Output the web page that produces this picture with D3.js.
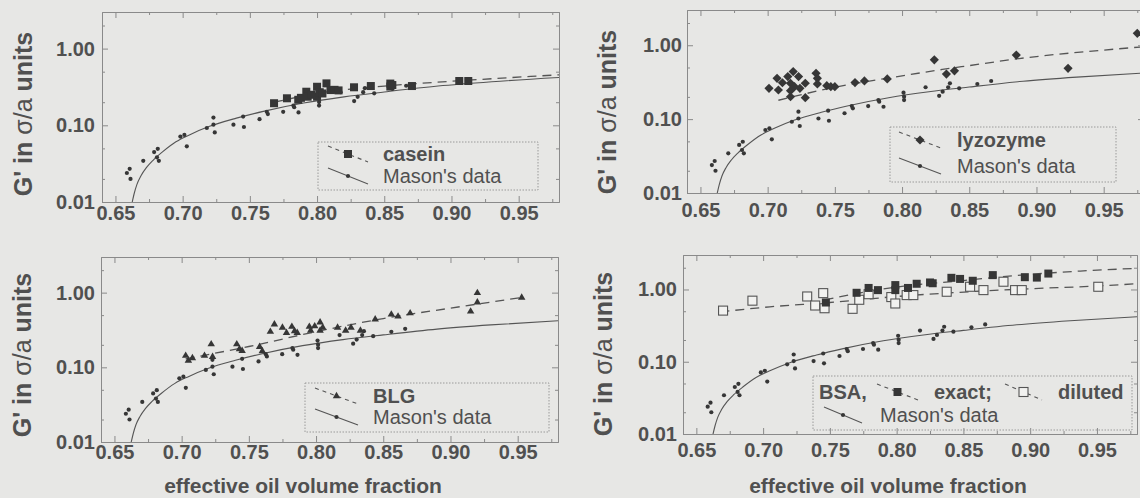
<!DOCTYPE html>
<html>
<head>
<meta charset="utf-8">
<script src="https://cdn.jsdelivr.net/npm/d3@7"></script>
<style>
  html, body { margin: 0; padding: 0; background: #e7e7e5; }
  svg { display: block; }
  text { font-family: "Liberation Sans", Arial, Helvetica, sans-serif; fill: #505050; }
</style>
</head>
<body>
<svg id="chart" width="1140" height="498"></svg>
<script>
// ---- axis settings -------------------------------------------------------
const xDomain = [0.64, 0.98];
const yDomain = [0.01, 3];
const xMajorTicks = [0.65, 0.70, 0.75, 0.80, 0.85, 0.90, 0.95];
const xMinorTicks = [0.675, 0.725, 0.775, 0.825, 0.875, 0.925, 0.975];
const yMajorTicks = [0.01, 0.1, 1];
const yMinorTicks = [0.02, 0.05, 0.2, 0.5, 2];

// ---- Mason's data (same reference set in all four panels) ---------------
const masonData = [
  [0.6585, 0.0239], [0.6606, 0.0271], [0.6612, 0.0200], [0.6707, 0.0344],
  [0.6788, 0.0447], [0.6815, 0.0494], [0.6809, 0.0382], [0.6823, 0.0344],
  [0.6983, 0.0712], [0.7013, 0.0750], [0.7031, 0.0532], [0.7180, 0.0922],
  [0.7229, 0.1260], [0.7229, 0.1020], [0.7239, 0.0807], [0.7378, 0.1020],
  [0.7450, 0.1300], [0.7456, 0.0950], [0.7572, 0.1200], [0.7626, 0.1500],
  [0.7634, 0.1400], [0.7748, 0.1500], [0.7824, 0.1810], [0.7830, 0.1720],
  [0.7862, 0.1470], [0.8011, 0.2280], [0.8015, 0.2010], [0.8015, 0.1810],
  [0.8175, 0.2700], [0.8276, 0.2070], [0.8302, 0.2350], [0.8343, 0.2700],
  [0.8356, 0.3050], [0.8425, 0.2610], [0.8560, 0.2990], [0.8663, 0.3280]
];
// Mason's fitted curve
const masonFit = [
  [0.6625, 0.010], [0.664, 0.013], [0.666, 0.017], [0.669, 0.022],
  [0.673, 0.028], [0.678, 0.035], [0.685, 0.045], [0.695, 0.061],
  [0.705, 0.075], [0.720, 0.097], [0.740, 0.124], [0.760, 0.152],
  [0.790, 0.195], [0.820, 0.235], [0.850, 0.272], [0.890, 0.325],
  [0.930, 0.370], [0.980, 0.420]
];

// ---- casein --------------------------------------------------------------
const caseinData = [
  [0.768, 0.194], [0.7776, 0.225], [0.786, 0.215], [0.788, 0.228],
  [0.792, 0.274], [0.793, 0.236], [0.796, 0.250], [0.800, 0.318],
  [0.800, 0.236], [0.802, 0.270], [0.804, 0.260], [0.807, 0.352],
  [0.810, 0.288], [0.813, 0.290], [0.816, 0.285], [0.8275, 0.313],
  [0.840, 0.325], [0.8545, 0.350], [0.8545, 0.320], [0.856, 0.335],
  [0.8706, 0.325], [0.9058, 0.378], [0.9125, 0.378]
];
const caseinFit = [[0.768, 0.200], [0.800, 0.260], [0.850, 0.325], [0.900, 0.375], [0.980, 0.455]];

// ---- lyzozyme ------------------------------------------------------------
const lyzozymeData = [
  [0.701, 0.261], [0.707, 0.357], [0.708, 0.248], [0.711, 0.311],
  [0.715, 0.377], [0.717, 0.306], [0.717, 0.243], [0.717, 0.201],
  [0.719, 0.440], [0.720, 0.275], [0.723, 0.377], [0.724, 0.261],
  [0.728, 0.195], [0.728, 0.306], [0.736, 0.418], [0.737, 0.357],
  [0.737, 0.300], [0.744, 0.284], [0.747, 0.275], [0.750, 0.275],
  [0.765, 0.312], [0.772, 0.329], [0.789, 0.350], [0.824, 0.635],
  [0.833, 0.407], [0.839, 0.450], [0.885, 0.736], [0.9235, 0.487],
  [0.975, 1.450]
];
const lyzozymeFit = [
  [0.708, 0.180], [0.750, 0.270], [0.800, 0.385], [0.830, 0.470],
  [0.850, 0.530], [0.887, 0.660], [0.950, 0.860], [0.980, 0.955]
];

// ---- BLG -----------------------------------------------------------------
const blgData = [
  [0.703, 0.143], [0.705, 0.123], [0.708, 0.133], [0.717, 0.143],
  [0.722, 0.204], [0.723, 0.138], [0.741, 0.204], [0.743, 0.175],
  [0.745, 0.166], [0.758, 0.188], [0.760, 0.165], [0.766, 0.300],
  [0.769, 0.376], [0.775, 0.340], [0.778, 0.290], [0.782, 0.350],
  [0.784, 0.306], [0.786, 0.290], [0.795, 0.350], [0.796, 0.310],
  [0.799, 0.355], [0.803, 0.400], [0.803, 0.310], [0.805, 0.340],
  [0.816, 0.340], [0.822, 0.310], [0.826, 0.340], [0.833, 0.310],
  [0.844, 0.440], [0.856, 0.510], [0.861, 0.480], [0.870, 0.530],
  [0.915, 0.560], [0.920, 0.740], [0.920, 0.990], [0.953, 0.860]
];
const blgFit = [[0.703, 0.130], [0.750, 0.190], [0.800, 0.300], [0.850, 0.450], [0.900, 0.620], [0.953, 0.860]];

// ---- BSA -----------------------------------------------------------------
const bsaExactData = [
  [0.747, 0.66], [0.770, 0.90], [0.779, 1.05], [0.786, 0.98],
  [0.799, 1.15], [0.799, 0.98], [0.8085, 1.05], [0.815, 1.20],
  [0.825, 1.25], [0.827, 1.22], [0.841, 1.45], [0.8475, 1.40],
  [0.857, 1.32], [0.872, 1.58], [0.896, 1.48], [0.905, 1.46],
  [0.9136, 1.66]
];
const bsaExactFit = [[0.746, 0.72], [0.800, 1.08], [0.850, 1.33], [0.8875, 1.55], [0.9375, 1.80], [0.980, 1.96]];

const bsaDilutedData = [
  [0.670, 0.51], [0.692, 0.70], [0.733, 0.80], [0.739, 0.60],
  [0.745, 0.89], [0.746, 0.55], [0.767, 0.54], [0.772, 0.72],
  [0.779, 0.86], [0.796, 0.785], [0.799, 0.64], [0.8075, 0.836],
  [0.8125, 0.836], [0.8375, 0.93], [0.855, 1.09], [0.865, 0.98],
  [0.880, 1.28], [0.8887, 0.98], [0.8937, 0.98], [0.951, 1.09]
];
const bsaDilutedFit = [[0.668, 0.49], [0.705, 0.575], [0.750, 0.66], [0.800, 0.80], [0.8875, 1.00], [0.951, 1.12], [0.980, 1.20]];

// ---- labels --------------------------------------------------------------
const yTitleParts = [["G' in ", "bold"], ["\u03c3/a", "normal"], [" units", "bold"]];
const xTitle = "effective oil volume fraction";
const masonLabel = "Mason's data";

// ---- styling -------------------------------------------------------------
const ink = "#363636";
const lineInk = "#555555";
const frameInk = "#8a8a8a";

const svg = d3.select("#chart");

// panel layout: plot frame, label offsets, legend box
const panels = [
  { left: 102, right: 559, top: 12, bottom: 202, xPad: 4, yPad: 7, titleX: 23, titleY: 114,
    legend: { x: 318, y: 142, w: 220, h: 48 },
    series: [{ data: caseinData, fit: caseinFit, marker: "square" }],
    legendRows: [
      { y: 161, items: [{ kind: "dash", marker: "square", x1: 328, x2: 368 }, { kind: "text", text: "casein", bold: true, x: 383 }] },
      { y: 183, items: [{ kind: "solid", x1: 328, x2: 368 }, { kind: "text", text: masonLabel, x: 383 }] }
    ] },
  { left: 687, right: 1144, top: 10, bottom: 193, xPad: 10, yPad: 5, titleX: 607, titleY: 112,
    legend: { x: 890, y: 127, w: 226, h: 55 },
    series: [{ data: lyzozymeData, fit: lyzozymeFit, marker: "diamond" }],
    legendRows: [
      { y: 147, items: [{ kind: "dash", marker: "diamond", x1: 899, x2: 941 }, { kind: "text", text: "lyzozyme", bold: true, x: 957 }] },
      { y: 173, items: [{ kind: "solid", x1: 899, x2: 941 }, { kind: "text", text: masonLabel, x: 957 }] }
    ] },
  { left: 101, right: 558, top: 257, bottom: 442, xPad: 3, yPad: 6, titleX: 22, titleY: 355,
    legend: { x: 305, y: 383, w: 244, h: 49 },
    xTitleX: 303,
    series: [{ data: blgData, fit: blgFit, marker: "triangle" }],
    legendRows: [
      { y: 403, items: [{ kind: "dash", marker: "triangle", x1: 315, x2: 358 }, { kind: "text", text: "BLG", bold: true, x: 373 }] },
      { y: 424, items: [{ kind: "solid", x1: 315, x2: 358 }, { kind: "text", text: masonLabel, x: 373 }] }
    ] },
  { left: 683, right: 1137, top: 255, bottom: 434, xPad: 9, yPad: 6, titleX: 603, titleY: 354,
    legend: { x: 813, y: 376, w: 319, h: 54 },
    xTitleX: 888,
    series: [
      { data: bsaDilutedData, fit: bsaDilutedFit, marker: "open" },
      { data: bsaExactData, fit: bsaExactFit, marker: "square" }
    ],
    legendRows: [
      { y: 399, items: [
        { kind: "text", text: "BSA,", bold: true, x: 819 },
        { kind: "dash", marker: "square", x1: 877, x2: 918 },
        { kind: "text", text: "exact;", bold: true, x: 934 },
        { kind: "dash", marker: "open", x1: 1005, x2: 1042 },
        { kind: "text", text: "diluted", bold: true, x: 1058 } ] },
      { y: 422, items: [{ kind: "solid", x1: 824, x2: 862 }, { kind: "text", text: masonLabel, x: 880 }] }
    ] }
];

function drawMarker(sel, type, cx, cy) {
  if (type === "square") {
    sel.append("rect").attr("x", cx - 4).attr("y", cy - 4).attr("width", 8).attr("height", 8)
      .attr("fill", ink);
  } else if (type === "open") {
    sel.append("rect").attr("x", cx - 4.5).attr("y", cy - 4.5).attr("width", 9).attr("height", 9)
      .attr("fill", "#f2f2f0").attr("stroke", "#555").attr("stroke-width", 1.1);
  } else if (type === "diamond") {
    sel.append("path").attr("d", d3.symbol(d3.symbolSquare, 42)())
      .attr("transform", `translate(${cx},${cy}) rotate(45)`).attr("fill", ink);
  } else if (type === "triangle") {
    sel.append("path").attr("d", d3.symbol(d3.symbolTriangle, 24)())
      .attr("transform", `translate(${cx},${cy})`).attr("fill", ink);
  } else if (type === "dot") {
    sel.append("circle").attr("cx", cx).attr("cy", cy).attr("r", 2.1).attr("fill", ink);
  }
}

panels.forEach((p, i) => {
  const x = d3.scaleLinear().domain(xDomain).range([p.left, p.right]);
  const y = d3.scaleLog().domain(yDomain).range([p.bottom, p.top]);
  const g = svg.append("g");

  const clipId = "plot-clip-" + i;
  svg.append("clipPath").attr("id", clipId).append("rect")
    .attr("x", p.left).attr("y", p.top).attr("width", p.right - p.left).attr("height", p.bottom - p.top);

  // axes on all four sides, ticks pointing inward
  const axisStyle = a => {
    a.selectAll("path, line").attr("stroke", frameInk).attr("stroke-width", 1);
    a.selectAll("text").attr("fill", "#505050").attr("font-size", 20).attr("font-weight", "bold")
      .attr("font-family", "'Liberation Sans', Arial, sans-serif");
  };
  const fmt = d3.format(".2f");

  g.append("g").attr("transform", `translate(0,${p.bottom})`)
    .call(d3.axisBottom(x).tickValues(xMinorTicks).tickSize(-3).tickSizeOuter(0).tickFormat(""))
    .call(axisStyle);
  g.append("g").attr("transform", `translate(0,${p.bottom})`)
    .call(d3.axisBottom(x).tickValues(xMajorTicks).tickSize(-6).tickSizeOuter(0).tickPadding(p.xPad).tickFormat(fmt))
    .call(axisStyle);
  g.append("g").attr("transform", `translate(0,${p.top})`)
    .call(d3.axisTop(x).tickValues(xMinorTicks).tickSize(-3).tickSizeOuter(0).tickFormat(""))
    .call(axisStyle);
  g.append("g").attr("transform", `translate(0,${p.top})`)
    .call(d3.axisTop(x).tickValues(xMajorTicks).tickSize(-6).tickSizeOuter(0).tickFormat(""))
    .call(axisStyle);

  g.append("g").attr("transform", `translate(${p.left},0)`)
    .call(d3.axisLeft(y).tickValues(yMinorTicks).tickSize(-3).tickSizeOuter(0).tickFormat(""))
    .call(axisStyle);
  g.append("g").attr("transform", `translate(${p.left},0)`)
    .call(d3.axisLeft(y).tickValues(yMajorTicks).tickSize(-6).tickSizeOuter(0).tickPadding(p.yPad).tickFormat(fmt))
    .call(axisStyle);
  g.append("g").attr("transform", `translate(${p.right},0)`)
    .call(d3.axisRight(y).tickValues(yMinorTicks).tickSize(-3).tickSizeOuter(0).tickFormat(""))
    .call(axisStyle);
  g.append("g").attr("transform", `translate(${p.right},0)`)
    .call(d3.axisRight(y).tickValues(yMajorTicks).tickSize(-6).tickSizeOuter(0).tickFormat(""))
    .call(axisStyle);

  // y title
  const yt = g.append("text")
    .attr("transform", `translate(${p.titleX},${p.titleY}) rotate(-90)`)
    .attr("text-anchor", "middle").attr("dy", "0.36em").attr("font-size", 25);
  yTitleParts.forEach(([t, w]) => yt.append("tspan").attr("font-weight", w).text(t));

  // x title (bottom row only)
  if (p.xTitleX !== undefined) {
    g.append("text").attr("x", p.xTitleX).attr("y", 493).attr("text-anchor", "middle")
      .attr("font-size", 21).attr("font-weight", "bold").text(xTitle);
  }

  // marks
  const plot = g.append("g").attr("clip-path", `url(#${clipId})`);
  const line = d3.line().x(d => x(d[0])).y(d => y(d[1])).curve(d3.curveMonotoneX);

  plot.append("path").datum(masonFit).attr("d", line)
    .attr("fill", "none").attr("stroke", lineInk).attr("stroke-width", 1.1);

  p.series.forEach(s => {
    plot.append("path").datum(s.fit).attr("d", line)
      .attr("fill", "none").attr("stroke", lineInk).attr("stroke-width", 1.3)
      .attr("stroke-dasharray", "9,6");
  });

  plot.selectAll(null).data(masonData).join("circle")
    .attr("cx", d => x(d[0])).attr("cy", d => y(d[1])).attr("r", 2.1).attr("fill", ink);

  p.series.forEach(s => {
    const mg = plot.append("g");
    s.data.forEach(d => drawMarker(mg, s.marker, x(d[0]), y(d[1])));
  });

  // legend
  const lg = g.append("g");
  lg.append("rect").attr("x", p.legend.x).attr("y", p.legend.y)
    .attr("width", p.legend.w).attr("height", p.legend.h)
    .attr("fill", "none").attr("stroke", "#9a9a9a").attr("stroke-width", 1)
    .attr("stroke-dasharray", "1.5,1.5");
  p.legendRows.forEach(row => {
    row.items.forEach(it => {
      if (it.kind === "text") {
        lg.append("text").attr("x", it.x).attr("y", row.y).attr("font-size", 20)
          .attr("font-weight", it.bold ? "bold" : "normal").text(it.text);
      } else {
        const y1 = row.y - 15, y2 = row.y + 1;
        lg.append("line").attr("x1", it.x1).attr("y1", y1).attr("x2", it.x2).attr("y2", y2)
          .attr("stroke", lineInk).attr("stroke-width", 1.1)
          .attr("stroke-dasharray", it.kind === "dash" ? "4,4" : null);
        drawMarker(lg, it.kind === "dash" ? it.marker : "dot", (it.x1 + it.x2) / 2, (y1 + y2) / 2);
      }
    });
  });
});
</script>
</body>
</html>
